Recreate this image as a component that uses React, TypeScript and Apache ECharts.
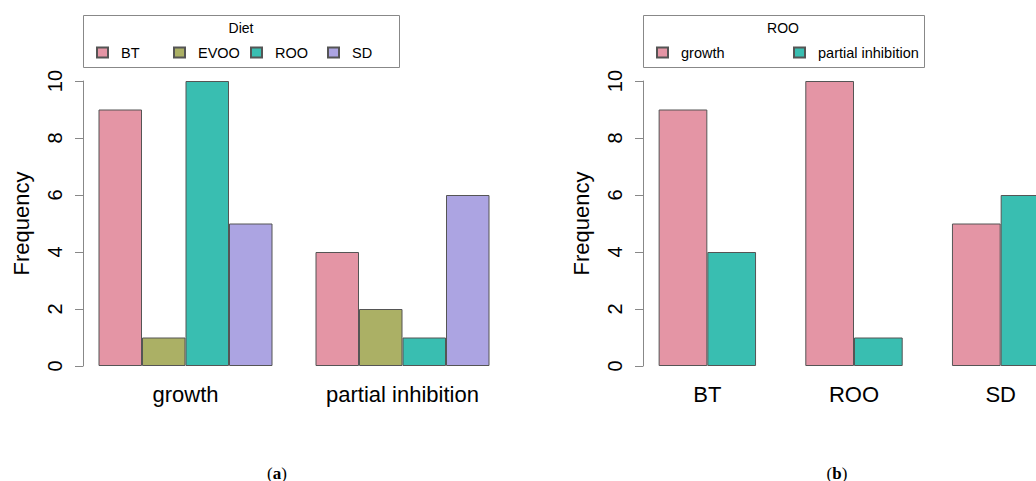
import React, { useEffect, useRef } from "react";
import * as echarts from "echarts";

const outcomeCats = ["growth", "partial inhibition"];
const dietNames = ["BT", "EVOO", "ROO", "SD"];
const dietColors = ["#E495A5", "#ABB065", "#39BEB1", "#ACA4E2"];
const btValues = [9, 4];
const evooValues = [1, 2];
const rooValues = [10, 1];
const sdValues = [5, 6];

const dietCats = ["BT", "ROO", "SD"];
const growthValues = [9, 10, 5];
const partialValues = [4, 1, 6];
const outcomeColors = ["#E495A5", "#39BEB1"];

const yTicks = [0, 2, 4, 6, 8, 10];

const FONT = "Liberation Sans, Arial, Helvetica, sans-serif";
const SERIF = "Liberation Serif, DejaVu Serif, serif";

export default function App() {
  const ref = useRef<HTMLDivElement>(null);
  useEffect(() => {
    if (!ref.current) return;
    const chart = echarts.init(ref.current, undefined, { renderer: "svg" });
    const dietSeries = [btValues, evooValues, rooValues, sdValues];
    const yAxisBase = (gridIndex: number, offset: number) => ({
      type: "value",
      gridIndex,
      min: yTicks[0],
      max: yTicks[yTicks.length - 1],
      interval: 2,
      offset,
      name: "Frequency",
      nameLocation: "middle",
      nameRotate: 90,
      nameGap: 51,
      nameTextStyle: { fontFamily: FONT, fontSize: 22, color: "#000" },
      axisLine: { show: true, lineStyle: { color: "#888", width: 1 } },
      axisTick: { show: true, length: 8, lineStyle: { color: "#888" } },
      axisLabel: {
        rotate: 90,
        margin: 18,
        fontFamily: FONT,
        fontSize: 20,
        color: "#000",
      },
      splitLine: { show: false },
    });
    const xAxisBase = (gridIndex: number, data: string[]) => ({
      type: "category",
      gridIndex,
      data,
      axisLine: { show: false },
      axisTick: { show: false },
      axisLabel: { margin: 17, fontFamily: FONT, fontSize: 22, color: "#000" },
    });
    const series: any[] = [];
    dietNames.forEach((n, i) => {
      series.push({
        type: "bar",
        name: n,
        xAxisIndex: 0,
        yAxisIndex: 0,
        data: dietSeries[i],
        barWidth: 43.5,
        barGap: "0%",
        itemStyle: { color: dietColors[i], borderColor: "#555", borderWidth: 1 },
      });
    });
    [growthValues, partialValues].forEach((vals, i) => {
      series.push({
        type: "bar",
        name: outcomeCats[i],
        xAxisIndex: 1,
        yAxisIndex: 1,
        data: vals,
        barWidth: 48.7,
        barGap: "0%",
        itemStyle: { color: outcomeColors[i], borderColor: "#555", borderWidth: 1 },
      });
    });
    const legendItem = (name: string, left: number) => ({
      orient: "horizontal",
      top: 45,
      left,
      padding: 0,
      itemWidth: 11,
      itemHeight: 10,
      icon: "rect",
      selectedMode: false,
      data: [name],
      textStyle: { fontFamily: FONT, fontSize: 14.5, color: "#000", padding: [0, 0, 0, 8] },
    });
    const leftSwatches = [96, 173, 250, 327];
    const rightSwatches = [656, 793];
    const captionStyle = (t: string) => ({
      text: "(" + "{b|" + t + "})",
      fontFamily: SERIF,
      fontSize: 17,
      fill: "#000",
      align: "center",
      verticalAlign: "middle",
      rich: { b: { fontWeight: "bold", fontFamily: SERIF, fontSize: 17 } },
    });
    chart.setOption({
      animation: false,
      backgroundColor: "#fff",
      grid: [
        { left: 77, top: 81, width: 434, height: 285 },
        { left: 634, top: 81, width: 440, height: 285 },
      ],
      xAxis: [xAxisBase(0, outcomeCats), xAxisBase(1, dietCats)],
      yAxis: [yAxisBase(0, -6), yAxisBase(1, -9)],
      legend: [
        ...dietNames.map((n, i) => legendItem(n, leftSwatches[i])),
        ...outcomeCats.map((n, i) => legendItem(n, rightSwatches[i])),
      ],
      series,
      graphic: [
        { type: "rect", shape: { x: 83.5, y: 15.5, width: 316, height: 52 }, style: { fill: "none", stroke: "#888", lineWidth: 1 } },
        { type: "rect", shape: { x: 643.5, y: 15.5, width: 281, height: 52 }, style: { fill: "none", stroke: "#888", lineWidth: 1 } },
        { type: "text", x: 241, y: 28, style: { text: "Diet", fontFamily: FONT, fontSize: 14, fill: "#000", align: "center", verticalAlign: "middle" } },
        { type: "text", x: 783, y: 28, style: { text: "ROO", fontFamily: FONT, fontSize: 14, fill: "#000", align: "center", verticalAlign: "middle" } },
        { type: "text", x: 277, y: 473, style: captionStyle("a") },
        { type: "text", x: 837, y: 473, style: captionStyle("b") },
      ],
    });
    return () => chart.dispose();
  }, []);
  return (
    <div
      ref={ref}
      style={{ position: "fixed", left: 0, top: 0, width: 1100, height: 481, background: "#fff" }}
    />
  );
}
